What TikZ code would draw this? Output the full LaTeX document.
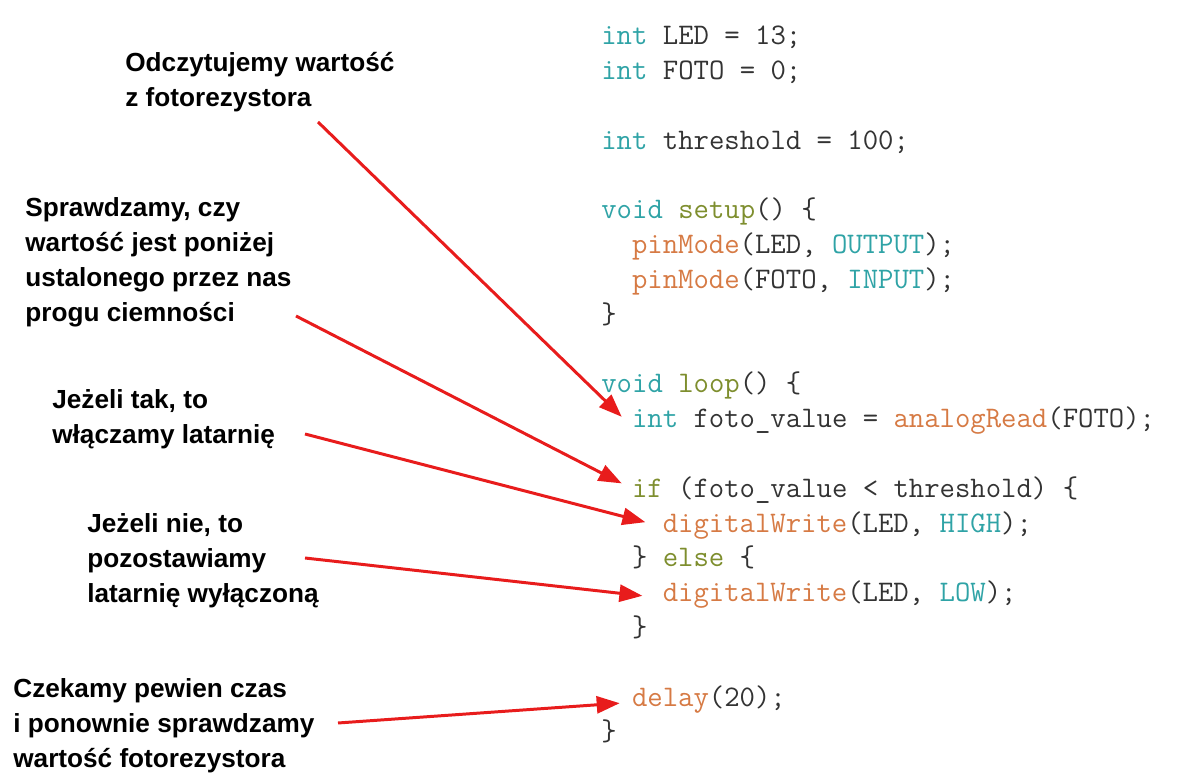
\documentclass[tikz,border=0pt]{standalone}
\usepackage{fontspec}
\setmainfont{Liberation Sans}
\usetikzlibrary{arrows.meta}
\definecolor{kwteal}{HTML}{2FA3A6}
\definecolor{ctlolive}{HTML}{7E8E2E}
\definecolor{fnorange}{HTML}{D67A44}
\definecolor{codetext}{HTML}{333333}
\definecolor{arrowred}{HTML}{E81C1C}
\newcommand\kw[1]{\textcolor{kwteal}{#1}}
\newcommand\ctl[1]{\textcolor{ctlolive}{#1}}
\newcommand\fnc[1]{\textcolor{fnorange}{#1}}
\newcommand\cst[1]{\textcolor{kwteal}{#1}}
\tikzset{
  code/.style={anchor=base west, inner sep=0pt, text=codetext, font=\ttfamily\fontsize{17}{19.7}\selectfont},
  label/.style={anchor=base west, inner sep=0pt, align=left, font=\bfseries\fontsize{14.9}{20}\selectfont},
  pointer/.style={-{Triangle[length=4.6mm, width=3.4mm]}, line width=1.7pt, draw=arrowred},
}
\begin{document}
\begin{tikzpicture}[x=0.02cm, y=-0.02cm]
\useasboundingbox (0,0) rectangle (1191,776);

% ===== Code =====
\node[code] (cled)   at (601,45)    {\kw{int} LED = 13;};
\node[code] (cfoto)  at (601,79.8)  {\kw{int} FOTO = 0;};
\node[code] (cthr)   at (601,149.4) {\kw{int} threshold = 100;};
\node[code] (csetup) at (601,219)   {\kw{void} \ctl{setup}() \{};
\node[code] (cpin1)  at (631.7,253.8) {\fnc{pinMode}(LED, \cst{OUTPUT});};
\node[code] (cpin2)  at (631.7,288.6) {\fnc{pinMode}(FOTO, \cst{INPUT});};
\node[code] (cend1)  at (601,323.4) {\}};
\node[code] (cloop)  at (601,393)   {\kw{void} \ctl{loop}() \{};
\node[code] (cread)  at (631.7,427.8) {\kw{int} foto\_value = \fnc{analogRead}(FOTO);};
\node[code] (cif)    at (631.7,497.4) {\ctl{if} (foto\_value < threshold) \{};
\node[code] (chigh)  at (662.4,532.2) {\fnc{digitalWrite}(LED, \cst{HIGH});};
\node[code] (celse)  at (631.7,567)   {\} \ctl{else} \{};
\node[code] (clow)   at (662.4,601.8) {\fnc{digitalWrite}(LED, \cst{LOW});};
\node[code] (cclose) at (631.7,636.6) {\}};
\node[code] (cdelay) at (631.7,706.2) {\fnc{delay}(20);};
\node[code] (cend2)  at (601,741)   {\}};

% ===== Labels (placed by last line) =====
\node[label] (lread)  at (125,107) {Odczytujemy wartość\\z fotorezystora};
\node[label] (lcheck) at (25,322)  {Sprawdzamy, czy\\wartość jest poniżej\\ustalonego przez nas\\progu ciemności};
\node[label] (lon)    at (52,444)  {Jeżeli tak, to\\włączamy latarnię};
\node[label] (loff)   at (87,603)  {Jeżeli nie, to\\pozostawiamy\\latarnię wyłączoną};
\node[label] (lwait)  at (13,768)  {Czekamy pewien czas\\i ponownie sprawdzamy\\wartość fotorezystora};

% ===== Arrows =====
\coordinate (tread)  at (318,122);
\coordinate (tcheck) at (296,316);
\coordinate (ton)    at (305,434);
\coordinate (toff)   at (305,558);
\coordinate (twait)  at (338,723);
\draw[pointer] (tread)  -- ([shift={(-10,-11)}]cread.base west);
\draw[pointer] (tcheck) -- ([shift={(-10,-14)}]cif.base west);
\draw[pointer] (ton)    -- ([shift={(-17,-10)}]chigh.base west);
\draw[pointer] (toff)   -- ([shift={(-20,-6)}]clow.base west);
\draw[pointer] (twait)  -- ([shift={(-12,-3)}]cdelay.base west);

\end{tikzpicture}
\end{document}
